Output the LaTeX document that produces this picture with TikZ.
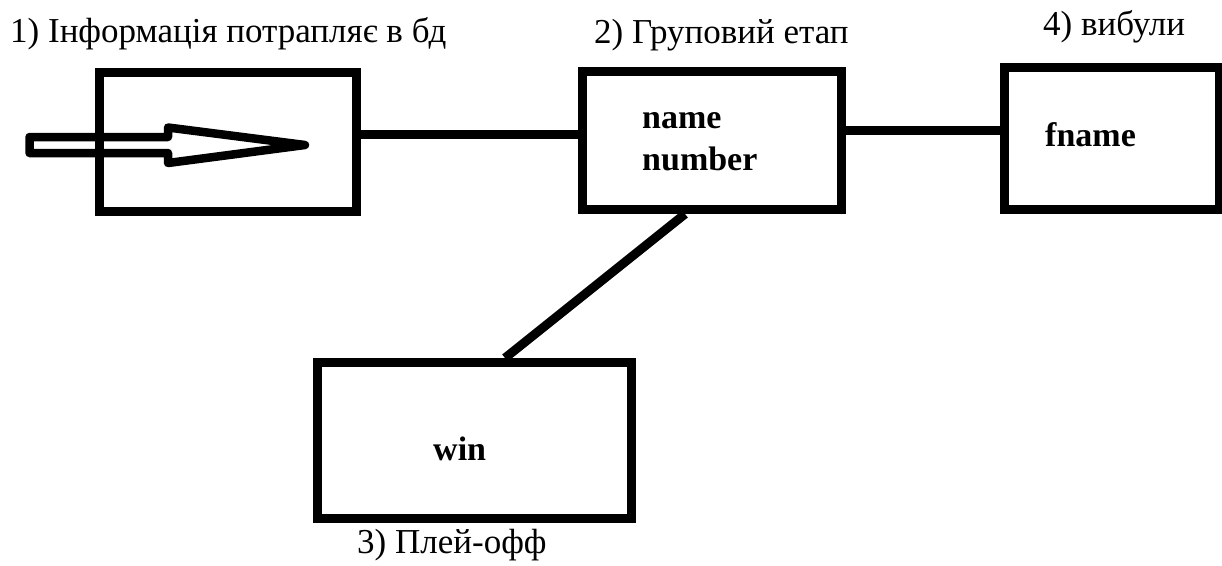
\documentclass[tikz,border=0pt]{standalone}
\usepackage{fontspec}
\setmainfont{Liberation Serif}
\begin{document}
\begin{tikzpicture}[x=1pt,y=-1pt,
  stage/.style={draw=black, line width=9pt, rectangle, inner sep=0pt},
  link/.style={draw=black, line width=9pt},
  caption/.style={inner sep=0pt, anchor=base west, font=\fontsize{35}{42}\selectfont},
  field/.style={inner sep=0pt, anchor=base west, font=\fontsize{34}{40}\selectfont\bfseries},
  inflow/.style={draw=black, line width=8.5pt, line join=round}]
\useasboundingbox (0,0) rectangle (1222,565);
\fill[white] (0,0) rectangle (1222,565);

% stage boxes
\node[stage, minimum width=257pt, minimum height=139.5pt] (db) at (228,141.8) {};
\node[stage, minimum width=258.5pt, minimum height=138pt] (group) at (711.75,140.5) {};
\node[stage, minimum width=314pt, minimum height=156pt] (playoff) at (474.5,440.5) {};
\node[stage, minimum width=214.5pt, minimum height=142.5pt] (out) at (1111.75,138.25) {};

% connectors between stages
\draw[link] ([yshift=7.3pt]db.east) -- ([yshift=6pt]group.west);
\draw[link] ([yshift=10pt]group.east) -- ([yshift=7.75pt]out.west);
\draw[link] ([xshift=-26.75pt]group.south) -- ([xshift=30.5pt]playoff.north);

% hollow input arrow
\coordinate (tip) at (305,145);
\draw[inflow] (tip) -- (168,127.5) -- (168,137) -- (29.5,137) -- (29.5,153)
  -- (168,153) -- (168,163) -- cycle;

% field names
\node[field] (f1) at (642,128) {name};
\node[field] (f2) at (642,170) {number};
\node[field] (f3) at (1045,146) {fname};
\node[field] (f4) at (433,460) {win};

% stage captions
\node[caption] (c1) at (10,42) {1) Інформація потрапляє в бд};
\node[caption] (c2) at (594,43) {2) Груповий етап};
\node[caption] (c3) at (357,553) {3) Плей-офф};
\node[caption] (c4) at (1043,35) {4) вибули};
\end{tikzpicture}
\end{document}
